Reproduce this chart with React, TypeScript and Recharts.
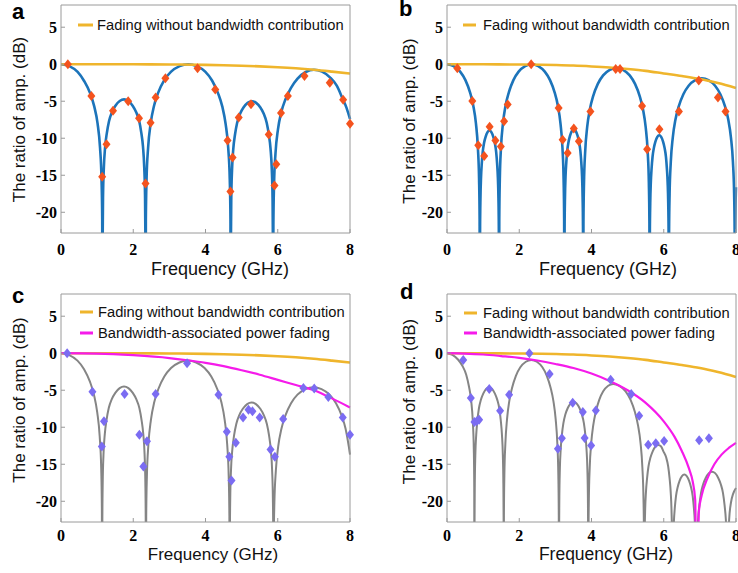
import { ComposedChart, Line, Scatter, XAxis, YAxis } from 'recharts';

type Pt = [number, number];

const xTicks = [0, 2, 4, 6, 8];
const yTicks = [-20, -15, -10, -5, 0, 5];

// envelope lines
const yellowAC: Pt[] = [[0, 0], [1, 0], [2, -0.01], [3, -0.03], [4, -0.09], [4.5, -0.14], [5, -0.2], [5.5, -0.29], [6, -0.4], [6.5, -0.55], [7, -0.75], [7.5, -1.0], [8, -1.27]];
const yellowBD: Pt[] = [[0, 0], [1, -0.01], [2, -0.04], [3, -0.11], [3.5, -0.18], [4, -0.3], [4.5, -0.45], [5, -0.65], [5.5, -0.9], [6, -1.25], [6.5, -1.6], [7, -2.0], [7.5, -2.55], [8, -3.2]];
const magentaC: Pt[] = [[0, 0], [1, -0.05], [2, -0.27], [3, -0.65], [3.5, -0.95], [4, -1.3], [4.5, -1.75], [5, -2.3], [5.5, -2.9], [6, -3.6], [6.5, -4.3], [7, -5.0], [7.5, -6.1], [8, -7.33]];
const magentaD: Pt[] = [[0, 0], [0.5, -0.05], [1, -0.17], [1.5, -0.38], [2, -0.62], [2.5, -0.98], [3, -1.45], [3.5, -2.0], [4, -2.75], [4.5, -3.75], [5, -5.0], [5.5, -6.7], [6, -9.2], [6.3, -11.3], [6.5, -13.2], [6.7, -15.6], [6.8, -17.3], [6.87, -19.8], [6.92, -40], [6.97, -21.5], [7.05, -19.2], [7.2, -17.0], [7.4, -15.0], [7.6, -13.7], [7.8, -12.8], [8, -12.1]];

// simulated responses (nulls go off the bottom)
const blueA: Pt[] = [
  [0, 0], [0.23, -0.25], [0.46, -1.05], [0.644, -2.3], [0.805, -3.9], [0.92, -5.7], [1.012, -8.0], [1.081, -11.3], [1.122, -15.6], [1.141, -21], [1.15, -60],
  [1.155, -22.7], [1.164, -17.7], [1.186, -14.0], [1.221, -11.2], [1.269, -9.3], [1.329, -7.7], [1.412, -6.45], [1.507, -5.6], [1.626, -4.97], [1.745, -4.75],
  [1.864, -4.97], [1.983, -5.6], [2.078, -6.45], [2.162, -7.6], [2.221, -9.2], [2.269, -11.1], [2.304, -13.9], [2.326, -17.7], [2.335, -22.7], [2.34, -60],
  [2.349, -21], [2.368, -15.6], [2.411, -11.3], [2.482, -8.0], [2.576, -5.6], [2.694, -3.8], [2.859, -2.15], [3.048, -1.0], [3.284, -0.25], [3.52, 0],
  [3.756, -0.25], [3.992, -1.0], [4.181, -2.2], [4.346, -3.9], [4.464, -5.7], [4.558, -8.1], [4.629, -11.3], [4.672, -15.6], [4.691, -21], [4.7, -60],
  [4.705, -23], [4.714, -18], [4.735, -14.2], [4.77, -11.4], [4.817, -9.5], [4.876, -7.9], [4.957, -6.7], [5.051, -5.85], [5.168, -5.22], [5.285, -5.0],
  [5.402, -5.22], [5.519, -5.85], [5.613, -6.7], [5.694, -7.9], [5.753, -9.5], [5.8, -11.4], [5.835, -14.2], [5.856, -18], [5.865, -23], [5.87, -60],
  [5.879, -21.7], [5.897, -16.3], [5.938, -12.0], [6.006, -8.8], [6.096, -6.5], [6.209, -4.8], [6.367, -3.2], [6.548, -1.95], [6.774, -1.05], [7.0, -0.75],
  [7.226, -1.0], [7.452, -1.8], [7.633, -2.9], [7.791, -4.6], [7.904, -5.9], [8.0, -7.4],
];
const blueB: Pt[] = [
  [0, 0], [0.182, -0.25], [0.364, -1.0], [0.51, -2.15], [0.637, -3.8], [0.728, -5.6], [0.801, -8.0], [0.855, -11.3], [0.888, -15.6], [0.903, -21], [0.91, -60],
  [0.912, -26.9], [0.916, -21.9], [0.926, -18.1], [0.942, -15.3], [0.963, -13.4], [0.99, -11.8], [1.027, -10.6], [1.069, -9.8], [1.122, -9.17], [1.175, -8.95],
  [1.228, -9.17], [1.281, -9.8], [1.323, -10.6], [1.36, -11.8], [1.387, -13.4], [1.408, -15.3], [1.424, -18.1], [1.434, -21.9], [1.438, -26.9], [1.44, -60],
  [1.447, -21], [1.462, -15.6], [1.494, -11.3], [1.549, -8.0], [1.621, -5.6], [1.712, -3.8], [1.838, -2.15], [1.983, -1.0], [2.164, -0.25], [2.345, 0],
  [2.526, -0.25], [2.707, -1.0], [2.852, -2.15], [2.979, -3.8], [3.069, -5.6], [3.141, -8.0], [3.196, -11.3], [3.228, -15.6], [3.243, -21], [3.25, -60],
  [3.252, -26.8], [3.256, -21.8], [3.266, -18.0], [3.281, -15.2], [3.302, -13.3], [3.328, -11.7], [3.364, -10.5], [3.406, -9.65], [3.458, -9.02], [3.51, -8.8],
  [3.562, -9.02], [3.614, -9.65], [3.656, -10.5], [3.692, -11.7], [3.718, -13.3], [3.739, -15.2], [3.754, -18.0], [3.764, -21.8], [3.768, -26.8], [3.77, -60],
  [3.777, -21.5], [3.792, -16.1], [3.825, -11.8], [3.88, -8.5], [3.954, -6.1], [4.046, -4.3], [4.175, -2.65], [4.322, -1.5], [4.506, -0.75], [4.69, -0.5],
  [4.874, -0.75], [5.058, -1.5], [5.205, -2.65], [5.334, -4.3], [5.426, -6.1], [5.5, -8.5], [5.555, -11.8], [5.588, -16.1], [5.603, -21.5], [5.61, -60],
  [5.612, -27.6], [5.616, -22.6], [5.626, -18.8], [5.642, -16.0], [5.663, -14.1], [5.69, -12.5], [5.727, -11.3], [5.769, -10.45], [5.822, -9.82], [5.875, -9.6],
  [5.928, -9.82], [5.981, -10.45], [6.023, -11.3], [6.061, -12.5], [6.087, -14.1], [6.108, -16.0], [6.124, -18.8], [6.134, -22.6], [6.138, -27.6], [6.14, -60],
  [6.147, -22.9], [6.162, -17.5], [6.195, -13.2], [6.25, -9.9], [6.323, -7.5], [6.415, -5.7], [6.543, -4.05], [6.689, -2.9], [6.872, -2.15], [7.055, -1.9],
  [7.238, -2.15], [7.421, -2.9], [7.567, -4.05], [7.696, -5.7], [7.787, -7.5], [7.86, -9.9], [7.915, -13.2], [7.948, -17.5], [7.963, -22.9], [7.97, -60],
  [7.975, -25], [7.985, -20], [8.0, -16.6],
];
const grayC: Pt[] = [
  [0, 0], [0.228, -0.25], [0.456, -1.0], [0.638, -2.15], [0.798, -3.8], [0.912, -5.6], [1.003, -8.0], [1.072, -11.3], [1.113, -15.6], [1.131, -21], [1.14, -60],
  [1.145, -22.5], [1.155, -17.5], [1.176, -13.7], [1.213, -10.9], [1.261, -9.0], [1.322, -7.4], [1.406, -6.2], [1.503, -5.35], [1.624, -4.72], [1.745, -4.5],
  [1.866, -4.72], [1.987, -5.35], [2.084, -6.2], [2.169, -7.4], [2.229, -9.0], [2.277, -10.9], [2.314, -13.7], [2.335, -17.5], [2.345, -22.5], [2.35, -60],
  [2.359, -22], [2.378, -16.6], [2.42, -12.3], [2.489, -9.0], [2.582, -6.6], [2.698, -4.8], [2.86, -3.15], [3.046, -2.0], [3.278, -1.25], [3.51, -1.0],
  [3.742, -1.25], [3.974, -2.0], [4.16, -3.15], [4.322, -4.8], [4.438, -6.6], [4.531, -9.0], [4.6, -12.3], [4.642, -16.6], [4.661, -22], [4.67, -60],
  [4.675, -24.6], [4.685, -19.6], [4.706, -15.8], [4.743, -13.0], [4.791, -11.1], [4.852, -9.55], [4.936, -8.35], [5.033, -7.5], [5.154, -6.87], [5.275, -6.65],
  [5.396, -6.87], [5.517, -7.5], [5.614, -8.35], [5.699, -9.55], [5.759, -11.1], [5.807, -13.0], [5.844, -15.8], [5.865, -19.6], [5.875, -24.6], [5.88, -60],
  [5.889, -25.6], [5.907, -20.2], [5.947, -15.9], [6.013, -12.6], [6.102, -10.2], [6.213, -8.4], [6.368, -6.75], [6.546, -5.6], [6.768, -4.85], [6.99, -4.6],
  [7.212, -4.85], [7.434, -5.6], [7.612, -6.75], [7.767, -8.4], [7.878, -10.2], [7.967, -12.6], [8.0, -13.7],
];
const grayD: Pt[] = [
  [0, 0], [0.152, -0.22], [0.304, -0.85], [0.426, -1.7], [0.532, -2.9], [0.608, -4.5], [0.669, -6.4], [0.714, -9.2], [0.742, -13], [0.754, -18], [0.76, -60],
  [0.763, -22.6], [0.77, -17.6], [0.784, -13.8], [0.809, -11.0], [0.841, -9.1], [0.882, -7.5], [0.938, -6.3], [1.003, -5.45], [1.084, -4.82], [1.165, -4.6],
  [1.246, -4.82], [1.327, -5.45], [1.392, -6.3], [1.449, -7.5], [1.489, -9.1], [1.521, -11.0], [1.546, -13.8], [1.56, -17.6], [1.567, -22.6], [1.57, -60],
  [1.576, -21.9], [1.588, -16.5], [1.616, -12.2], [1.662, -8.9], [1.723, -6.5], [1.8, -4.7], [1.907, -3.05], [2.029, -1.9], [2.182, -1.15], [2.335, -0.9],
  [2.488, -1.15], [2.641, -1.9], [2.763, -3.05], [2.87, -4.7], [2.947, -6.5], [3.008, -8.9], [3.054, -12.2], [3.082, -16.5], [3.094, -21.9], [3.1, -60],
  [3.103, -24.5], [3.11, -19.5], [3.124, -15.7], [3.149, -12.9], [3.181, -11.0], [3.222, -9.45], [3.278, -8.25], [3.343, -7.4], [3.424, -6.77], [3.505, -6.55],
  [3.586, -6.77], [3.667, -7.4], [3.732, -8.25], [3.789, -9.45], [3.829, -11.0], [3.861, -12.9], [3.886, -15.7], [3.9, -19.5], [3.907, -24.5], [3.91, -60],
  [3.916, -25.1], [3.927, -19.7], [3.951, -15.4], [3.993, -12.1], [4.048, -9.75], [4.117, -7.95], [4.214, -6.3], [4.324, -5.15], [4.462, -4.4], [4.6, -4.15],
  [4.772, -4.4], [4.944, -5.15], [5.082, -6.3], [5.202, -7.95], [5.288, -9.75], [5.357, -12.1], [5.408, -15.4], [5.439, -19.7], [5.453, -25.1], [5.46, -60],
  [5.469, -25.4], [5.483, -21.6], [5.507, -18.8], [5.538, -16.9], [5.577, -15.3], [5.632, -14.1], [5.694, -13.25], [5.772, -12.6], [5.85, -12.4],
  [5.928, -12.6], [5.99, -13.25], [6.068, -14.1], [6.123, -15.3], [6.162, -16.9], [6.193, -18.8], [6.217, -21.6], [6.231, -25.4], [6.24, -60],
  [6.26, -25.6], [6.28, -22.8], [6.306, -20.9], [6.339, -19.3], [6.385, -18.1], [6.438, -17.25], [6.504, -16.6], [6.57, -16.4],
  [6.636, -16.6], [6.702, -17.25], [6.755, -18.1], [6.801, -19.3], [6.834, -20.9], [6.86, -22.8], [6.88, -25.6], [6.9, -60],
  [6.926, -25.2], [6.952, -22.4], [6.987, -20.5], [7.031, -18.9], [7.091, -17.7], [7.161, -16.85], [7.248, -16.2], [7.335, -16.0],
  [7.422, -16.2], [7.509, -16.85], [7.579, -17.7], [7.64, -18.9], [7.683, -20.5], [7.718, -22.4], [7.744, -25.2], [7.77, -60],
  [7.785, -26], [7.81, -22.5], [7.86, -20.2], [7.92, -19.0], [8.0, -18.2],
];

// measured points
const markersA: Pt[] = [[0.19, 0], [0.84, -4.3], [1.14, -15.2], [1.26, -10.8], [1.44, -6.3], [1.86, -5.0], [2.16, -7.3], [2.34, -16.1], [2.48, -7.9], [2.62, -4.5], [2.89, -1.9], [3.78, -0.55], [4.27, -3.4], [4.61, -10.3], [4.69, -17.2], [4.75, -12.6], [4.92, -7.2], [5.26, -5.4], [5.75, -9.5], [5.91, -16.4], [5.96, -13.5], [6.09, -6.6], [6.28, -4.3], [6.74, -1.6], [7.44, -2.5], [7.81, -4.8], [8.0, -8.05]];
const markersB: Pt[] = [[0.285, -0.54], [0.7, -4.98], [0.865, -10.95], [1.03, -12.4], [1.18, -8.45], [1.34, -10.3], [1.49, -11.1], [1.58, -7.7], [1.68, -5.43], [2.33, 0], [3.09, -5.9], [3.2, -10.2], [3.34, -12.0], [3.51, -8.7], [3.65, -10.4], [3.97, -6.4], [4.67, -0.63], [4.79, -0.63], [5.4, -5.65], [5.54, -11.5], [5.88, -8.8], [6.42, -6.4], [6.97, -2.2], [7.5, -4.5], [7.71, -6.4]];
const markersC: Pt[] = [[0.17, 0], [0.87, -5.2], [1.13, -12.6], [1.19, -9.2], [1.76, -5.5], [2.17, -11.0], [2.28, -15.3], [2.38, -11.9], [2.62, -5.5], [3.49, -1.36], [4.36, -5.6], [4.59, -10.6], [4.66, -14.0], [4.72, -17.2], [4.84, -12.1], [5.04, -8.7], [5.19, -7.65], [5.3, -7.85], [5.5, -8.7], [5.8, -13.0], [5.92, -14.0], [6.15, -8.9], [6.71, -4.7], [7.01, -4.75], [7.4, -5.9], [7.8, -8.7], [8.0, -11.0]];
const markersD: Pt[] = [[0.45, -0.9], [0.66, -6.05], [0.76, -9.3], [0.83, -9.15], [0.89, -9.0], [1.17, -4.83], [1.47, -7.77], [1.72, -5.6], [2.28, 0], [2.84, -2.8], [3.07, -12.9], [3.18, -11.5], [3.48, -6.7], [3.76, -7.95], [3.81, -11.45], [3.99, -12.45], [4.12, -7.75], [4.53, -3.6], [5.1, -5.5], [5.32, -8.45], [5.57, -12.35], [5.78, -12.15], [6.01, -11.85], [6.98, -11.75], [7.25, -11.5]];

const YELLOW = '#EFB52C';
const BLUE = '#1C74BA';
const GRAY = '#858585';
const MAGENTA = '#F51BEA';
const ORANGE = '#F4531E';
const PURPLE = '#7B6CF2';
const FRAME = '#9a9a9a';
const SANS = '"Liberation Sans", Arial, sans-serif';

const tickFont = { fontFamily: '"Liberation Serif", "Times New Roman", serif', fontWeight: 700, fontSize: 16, fill: '#000' };

const rows = (arr: Pt[]) => arr.map(([f, v]) => ({ f, v }));

const diamond = (color: string) => (p: any) => (
  <polygon
    points={`${p.cx},${p.cy - 5} ${p.cx + 4},${p.cy} ${p.cx},${p.cy + 5} ${p.cx - 4},${p.cy}`}
    fill={color}
  />
);

type PanelProps = {
  left: number;
  top: number;
  xGap: number;
  curve: Pt[];
  curveColor: string;
  curveWidth: number;
  yellow: Pt[];
  magenta?: Pt[];
  markers: Pt[];
  markerColor: string;
};

const Panel = ({ left, top, xGap, curve, curveColor, curveWidth, yellow, magenta, markers, markerColor }: PanelProps) => (
  <div style={{ position: 'absolute', left, top }}>
    <ComposedChart width={370} height={280} margin={{ top: 4, right: 19, bottom: 17, left: 21 }}>
      <XAxis dataKey="f" type="number" domain={[0, 8]} ticks={xTicks} height={30}
        tickSize={-4} tickMargin={xGap} tick={tickFont}
        axisLine={{ stroke: FRAME }} tickLine={{ stroke: FRAME }} />
      <XAxis xAxisId="top" orientation="top" type="number" domain={[0, 8]} ticks={xTicks} height={1}
        tickSize={-4} tick={false} axisLine={{ stroke: FRAME }} tickLine={{ stroke: FRAME }} />
      <YAxis type="number" domain={[-22.8, 8]} allowDataOverflow ticks={yTicks} width={40}
        tickSize={-4} tickMargin={8} tick={tickFont}
        axisLine={{ stroke: FRAME }} tickLine={{ stroke: FRAME }} />
      <YAxis yAxisId="right" orientation="right" type="number" domain={[-22.8, 8]} allowDataOverflow ticks={yTicks} width={1}
        tickSize={-4} tick={false} axisLine={{ stroke: FRAME }} tickLine={{ stroke: FRAME }} />
      <Line data={rows(curve)} dataKey="v" type="monotone" stroke={curveColor} strokeWidth={curveWidth} dot={false} isAnimationActive={false} />
      <Line data={rows(yellow)} dataKey="v" type="monotone" stroke={YELLOW} strokeWidth={2.6} dot={false} isAnimationActive={false} />
      {magenta && (
        <Line data={rows(magenta)} dataKey="v" type="monotone" stroke={MAGENTA} strokeWidth={2.2} dot={false} isAnimationActive={false} />
      )}
      <Scatter data={rows(markers)} dataKey="v" shape={diamond(markerColor)} isAnimationActive={false} />
    </ComposedChart>
  </div>
);

const Texts = () => (
  <svg width={738} height={573} style={{ position: 'absolute', left: 0, top: 0, pointerEvents: 'none' }}>
    <g fontFamily={SANS} fontWeight={700} fontSize={22} fill="#000">
      <text x={12} y={19}>a</text>
      <text x={399} y={16}>b</text>
      <text x={12} y={303}>c</text>
      <text x={400} y={299}>d</text>
    </g>
    <g fontFamily={SANS} fill="#111" textAnchor="middle">
      <text x={220} y={275} fontSize={18}>Frequency (GHz)</text>
      <text x={608} y={275} fontSize={18}>Frequency (GHz)</text>
      <text x={213} y={560} fontSize={17}>Frequency (GHz)</text>
      <text x={606} y={560} fontSize={17.5}>Frequency (GHz)</text>
      <text x={19} y={119.5} fontSize={17} dominantBaseline="central" transform="rotate(-90 19 119.5)">The ratio of amp. (dB)</text>
      <text x={409} y={121} fontSize={17} dominantBaseline="central" transform="rotate(-90 409 121)">The ratio of amp. (dB)</text>
      <text x={19} y={400} fontSize={17} dominantBaseline="central" transform="rotate(-90 19 400)">The ratio of amp. (dB)</text>
      <text x={409} y={401.5} fontSize={17} dominantBaseline="central" transform="rotate(-90 409 401.5)">The ratio of amp. (dB)</text>
    </g>
    <g fontFamily={SANS} fontSize={14.7} fill="#111">
      <line x1={78} y1={25} x2={93} y2={25} stroke={YELLOW} strokeWidth={3} />
      <text x={97} y={30}>Fading without bandwidth contribution</text>
      <line x1={463} y1={25} x2={476} y2={25} stroke={YELLOW} strokeWidth={3} />
      <text x={483} y={30}>Fading without bandwidth contribution</text>
      <line x1={80} y1={312} x2={93} y2={312} stroke={YELLOW} strokeWidth={3} />
      <text x={98} y={317}>Fading without bandwidth contribution</text>
      <line x1={80} y1={333} x2={93} y2={333} stroke={MAGENTA} strokeWidth={3} />
      <text x={98} y={338}>Bandwidth-associated power fading</text>
      <line x1={464} y1={313} x2={477} y2={313} stroke={YELLOW} strokeWidth={3} />
      <text x={483} y={318}>Fading without bandwidth contribution</text>
      <line x1={464} y1={333} x2={477} y2={333} stroke={MAGENTA} strokeWidth={3} />
      <text x={483} y={338}>Bandwidth-associated power fading</text>
    </g>
  </svg>
);

export default function App() {
  return (
    <div style={{ position: 'absolute', left: 0, top: 0, width: 738, height: 573, overflow: 'hidden', background: '#fff' }}>
      <Panel left={0} top={0} xGap={15} curve={blueA} curveColor={BLUE} curveWidth={2.6} yellow={yellowAC} markers={markersA} markerColor={ORANGE} />
      <Panel left={386} top={0} xGap={15} curve={blueB} curveColor={BLUE} curveWidth={2.6} yellow={yellowBD} markers={markersB} markerColor={ORANGE} />
      <Panel left={0} top={289} xGap={12} curve={grayC} curveColor={GRAY} curveWidth={2} yellow={yellowAC} magenta={magentaC} markers={markersC} markerColor={PURPLE} />
      <Panel left={386} top={289} xGap={12} curve={grayD} curveColor={GRAY} curveWidth={2} yellow={yellowBD} magenta={magentaD} markers={markersD} markerColor={PURPLE} />
      <Texts />
    </div>
  );
}
